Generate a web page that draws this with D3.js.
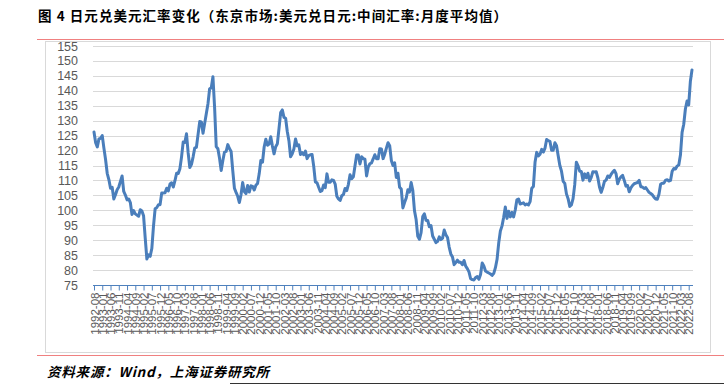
<!DOCTYPE html>
<html><head><meta charset="utf-8">
<script src="https://cdn.jsdelivr.net/npm/d3@7"></script>
<style>body{margin:0;background:#fff}svg{display:block}</style>
</head><body>
<svg id="c" width="724" height="386"></svg>
<script>
const title = "图 4  日元兑美元汇率变化（东京市场:美元兑日元:中间汇率:月度平均值）";
const source = "资料来源：Wind，上海证券研究所";
const startYear = 1992, startMonth = 8;
const yTicks = [75,80,85,90,95,100,105,110,115,120,125,130,135,140,145,150,155];
const usdjpy = [
 // 1992-08..12
 126.2,122.6,121.2,123.9,124.1,
 // 1993
 125.0,120.8,117.0,112.4,110.3,107.4,107.7,103.8,105.2,106.9,107.8,109.7,
 // 1994
 111.5,106.3,105.1,103.5,103.8,102.6,98.6,99.9,98.8,98.4,98.0,100.2,
 // 1995
 99.8,98.2,90.8,83.7,85.1,84.6,87.2,94.6,100.5,100.9,101.9,101.9,
 // 1996
 105.8,105.8,105.9,107.4,106.5,108.8,109.2,107.8,109.9,112.4,112.3,113.9,
 // 1997
 117.9,122.9,122.7,125.6,119.2,114.3,115.4,117.9,120.9,121.1,125.4,129.7,
 // 1998
 129.6,125.8,129.1,132.4,135.7,140.7,141.0,144.7,134.5,121.3,120.6,117.4,
 // 1999
 113.3,116.7,119.5,119.7,122.0,120.7,119.7,113.3,107.4,106.0,104.7,102.6,
 // 2000
 105.2,109.3,106.3,105.6,108.3,106.1,108.2,108.0,106.8,108.4,109.0,112.2,
 // 2001
 116.7,116.1,121.2,123.8,121.8,122.2,124.6,121.5,118.9,121.3,122.3,127.4,
 // 2002
 132.7,133.6,131.1,130.8,126.4,123.3,117.9,118.9,120.5,123.9,121.6,121.9,
 // 2003
 118.7,119.3,118.6,119.8,117.3,118.3,118.6,118.7,114.8,109.5,109.2,107.7,
 // 2004
 106.3,106.6,108.5,107.6,112.2,109.4,109.4,110.2,110.0,108.8,104.7,103.8,
 // 2005
 103.3,104.9,105.3,107.3,106.6,108.7,111.9,110.6,111.2,114.9,118.5,118.5,
 // 2006
 115.5,117.9,117.3,117.1,111.5,114.5,115.6,115.9,117.2,118.6,117.3,117.3,
 // 2007
 120.6,120.5,117.3,118.8,120.8,122.6,121.6,116.7,115.0,115.9,111.0,112.4,
 // 2008
 107.7,107.1,100.8,102.6,104.1,106.9,106.1,109.3,106.6,99.9,96.9,91.3,
 // 2009
 90.3,92.5,97.9,98.8,96.6,96.6,94.5,94.9,91.4,90.3,89.2,89.6,
 // 2010
 91.1,90.2,90.7,93.4,91.8,90.9,87.7,85.4,84.4,81.8,82.5,83.3,
 // 2011
 82.6,82.6,81.8,83.2,81.3,80.5,79.4,77.1,76.8,76.7,77.5,77.8,
 // 2012
 76.9,78.5,82.4,81.4,79.7,79.3,79.0,78.7,78.2,78.9,80.8,83.6,
 // 2013
 89.1,93.1,94.8,97.7,101.1,97.3,99.7,97.8,99.3,97.8,100.1,103.5,
 // 2014
 103.8,102.1,102.3,102.5,101.8,102.1,101.8,102.9,107.4,108.0,116.2,119.4,
 // 2015
 118.2,118.8,120.4,119.5,120.8,123.7,123.3,123.1,120.1,120.1,122.6,121.6,
 // 2016
 118.3,115.0,113.1,109.7,109.0,105.5,103.9,101.3,101.8,103.9,108.5,116.1,
 // 2017
 114.9,113.1,113.0,110.1,112.2,110.9,112.4,109.8,111.0,112.9,112.8,112.9,
 // 2018
 110.9,107.8,106.0,107.6,109.7,110.1,111.5,111.0,112.0,112.8,113.4,112.3,
 // 2019
 108.9,110.4,111.2,111.7,110.0,108.1,108.3,106.2,107.5,108.3,108.9,109.1,
 // 2020
 109.3,110.0,107.9,107.8,107.3,107.6,106.8,106.0,105.6,105.2,104.4,103.8,
 // 2021
 103.7,105.4,108.7,109.1,109.1,110.1,110.2,109.8,110.0,113.1,114.0,113.8,
 // 2022-01..10
 114.8,115.2,118.5,126.1,128.8,133.9,136.6,135.3,143.1,147.0
];
const months = usdjpy.map((v,i)=>{
  const m = startMonth - 1 + i;
  const y = startYear + Math.floor(m/12);
  return y + "-" + String(m%12+1).padStart(2,"0");
});
const labelEvery = 5;

const svg = d3.select("#c");
// frame & decorations
svg.append("line").attr("x1",37).attr("x2",724).attr("y1",39.5).attr("y2",39.5).attr("stroke","#F08080").attr("stroke-width",1.2);
svg.append("rect").attr("x",45.5).attr("y",41.5).attr("width",665).attr("height",311).attr("fill","none").attr("stroke","#D9D9D9");
svg.append("line").attr("x1",37).attr("x2",724).attr("y1",355.5).attr("y2",355.5).attr("stroke","#F08080").attr("stroke-width",1.2);
svg.append("line").attr("x1",230).attr("x2",724).attr("y1",383.5).attr("y2",383.5).attr("stroke","#333").attr("stroke-width",1);

svg.append("text").attr("x",38).attr("y",21).attr("font-family","'Noto Sans CJK SC'").attr("font-weight","bold")
  .attr("font-size",13.5).attr("letter-spacing",1.05).attr("fill","#000").text(title);
svg.append("text").attr("x",47).attr("y",377).attr("font-family","'Noto Sans CJK SC'").attr("font-style","italic")
  .attr("font-weight","bold").attr("font-size",13.5).attr("letter-spacing",0.8).attr("fill","#000").text(source);

const x = d3.scalePoint().domain(months).range([94,692]);
const y = d3.scaleLinear().domain([75,155]).range([285,46]);

// gridlines
svg.append("g").selectAll("line").data(yTicks.filter(d=>d>75)).join("line")
  .attr("x1",93).attr("x2",693).attr("y1",d=>Math.round(y(d))+0.5).attr("y2",d=>Math.round(y(d))+0.5)
  .attr("stroke","#D9D9D9").attr("stroke-width",1);

// y axis labels
const yAxis = d3.axisLeft(y).tickValues(yTicks).tickSize(0).tickPadding(0);
const gy = svg.append("g").attr("transform","translate(78,0)").call(yAxis);
gy.select(".domain").remove();
gy.selectAll("text").attr("font-family","'Liberation Sans'").attr("font-size",12.5).attr("fill","#595959");

// x axis
const tickMonths = months.filter((d,i)=>i%labelEvery===0);
const xAxis = d3.axisBottom(x).tickValues(tickMonths).tickSize(5).tickPadding(0);
const gx = svg.append("g").attr("transform","translate(0,285.5)").call(xAxis);
gx.select(".domain").attr("stroke","#4F81BD").attr("d","M93,0H693");
gx.selectAll(".tick line").attr("stroke","#4F81BD");
gx.selectAll("text").attr("font-family","'Liberation Sans'").attr("font-size",11.5).attr("fill","#595959")
  .attr("transform","rotate(-90)").attr("text-anchor","end").attr("dy","0.35em").attr("x",-7).attr("y",0);

// line
const line = d3.line().x((d,i)=>x(months[i])).y(d=>y(d)).curve(d3.curveLinear);
svg.append("path").datum(usdjpy).attr("d",line).attr("fill","none").attr("stroke","#4A7EBB")
  .attr("stroke-width",3).attr("stroke-linejoin","round").attr("stroke-linecap","round");
</script>
</body></html>
